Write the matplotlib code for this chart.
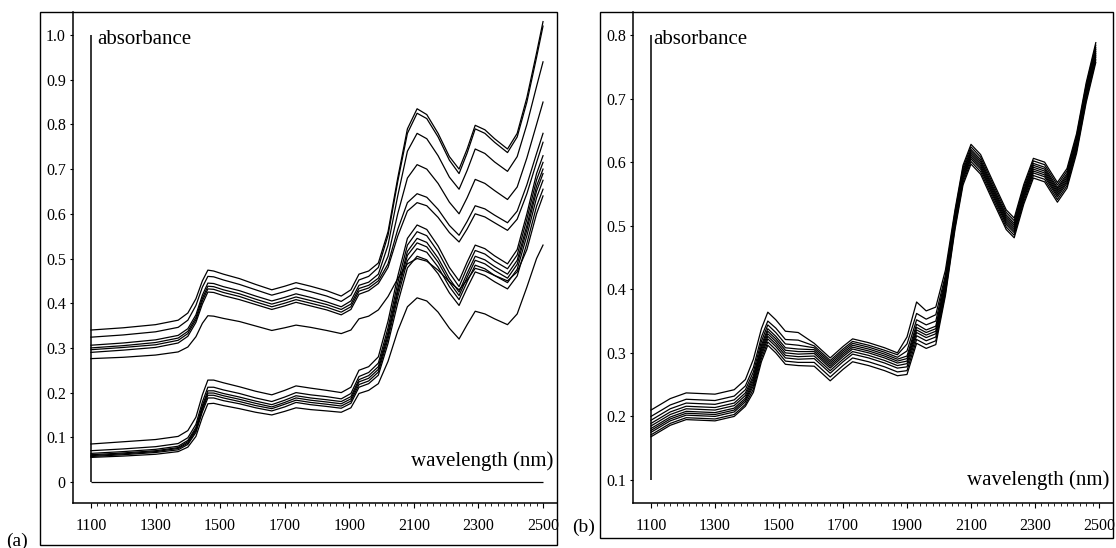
import numpy as np
import matplotlib.pyplot as plt
from matplotlib.patches import Rectangle

plt.rcParams['font.family'] = ['Liberation Serif', 'DejaVu Serif']

# --- данные (a): длины волн и спектры, две группы ---
wl_a = [1100, 1200, 1300, 1370, 1400, 1425, 1445, 1462, 1480, 1510, 1560, 1610, 1660, 1700,
        1735, 1780, 1830, 1875, 1905, 1930, 1960, 1990, 2020, 2050, 2080, 2110, 2140, 2175,
        2210, 2240, 2265, 2290, 2320, 2350, 2390, 2420, 2450, 2480, 2500]

upper_a = [
    [.340, .345, .352, .362, .378, .410, .450, .474, .472, .465, .455, .442, .430, .438, .446, .438,
     .428, .416, .430, .465, .472, .490, .560, .680, .790, .835, .822, .780, .728, .700, .745, .798,
     .788, .768, .745, .780, .860, .960, 1.030],
    [.324, .329, .336, .346, .362, .395, .436, .460, .459, .452, .442, .430, .418, .426, .434, .426,
     .416, .404, .418, .452, .460, .480, .552, .672, .780, .825, .813, .772, .720, .690, .736, .790,
     .780, .760, .737, .772, .850, .950, 1.020],
    [.306, .311, .318, .328, .343, .374, .418, .445, .444, .437, .428, .416, .405, .413, .421, .413,
     .403, .392, .405, .440, .447, .465, .530, .640, .740, .780, .768, .730, .682, .655, .697, .745,
     .735, .716, .695, .728, .800, .885, .940],
    [.300, .305, .312, .322, .337, .368, .411, .438, .437, .430, .421, .409, .398, .406, .414, .406,
     .397, .386, .398, .433, .440, .456, .505, .600, .680, .710, .700, .668, .626, .600, .636, .677,
     .668, .652, .632, .660, .725, .800, .850],
    [.296, .301, .307, .317, .332, .363, .405, .432, .431, .424, .415, .403, .392, .400, .408, .400,
     .391, .380, .392, .427, .434, .450, .488, .565, .625, .645, .637, .610, .574, .552, .583, .618,
     .611, .597, .580, .606, .665, .735, .780],
    [.290, .295, .301, .311, .326, .357, .398, .425, .424, .417, .408, .397, .386, .394, .402, .394,
     .385, .374, .386, .420, .428, .444, .480, .550, .606, .625, .618, .592, .558, .537, .566, .600,
     .593, .580, .563, .588, .645, .715, .760],
    [.276, .279, .284, .291, .302, .325, .355, .372, .371, .366, .359, .349, .339, .345, .351, .346,
     .339, .332, .340, .365, .371, .385, .415, .455, .488, .500, .494, .474, .448, .430, .452, .478,
     .472, .462, .450, .470, .520, .600, .640],
]

lower_a = [
    [.085, .090, .095, .102, .115, .145, .195, .228, .228, .222, .213, .203, .195, .205, .215, .210,
     .205, .200, .212, .250, .258, .280, .360, .460, .545, .575, .565, .528, .480, .450, .492, .530,
     .522, .506, .488, .520, .600, .690, .730],
    [.070, .074, .079, .086, .099, .129, .179, .212, .212, .206, .198, .188, .180, .190, .200, .195,
     .191, .186, .198, .236, .245, .266, .345, .445, .530, .560, .551, .515, .468, .437, .480, .518,
     .510, .494, .477, .508, .588, .676, .715],
    [.064, .068, .073, .080, .093, .122, .171, .204, .204, .198, .190, .181, .173, .183, .193, .188,
     .184, .180, .191, .229, .238, .258, .335, .432, .516, .545, .536, .501, .455, .425, .467, .505,
     .497, .482, .465, .496, .574, .662, .700],
    [.061, .065, .070, .077, .090, .118, .166, .199, .199, .193, .185, .176, .168, .178, .188, .183,
     .179, .175, .186, .224, .232, .252, .328, .424, .507, .535, .526, .492, .447, .417, .458, .496,
     .488, .473, .456, .487, .564, .651, .690],
    [.059, .063, .068, .075, .087, .115, .162, .194, .194, .188, .180, .171, .164, .174, .183, .178,
     .174, .170, .181, .218, .226, .246, .320, .414, .495, .522, .514, .481, .437, .408, .448, .485,
     .477, .462, .446, .476, .551, .636, .675],
    [.057, .061, .066, .072, .084, .111, .157, .188, .188, .182, .175, .166, .159, .168, .178, .173,
     .169, .165, .176, .212, .220, .239, .310, .400, .479, .505, .497, .466, .423, .395, .434, .470,
     .462, .448, .432, .461, .534, .617, .655],
    [.055, .058, .062, .068, .078, .102, .145, .175, .176, .171, .164, .156, .150, .158, .166, .162,
     .159, .156, .166, .198, .205, .220, .270, .338, .392, .412, .405, .380, .344, .320, .352, .382,
     .376, .365, .352, .376, .436, .500, .530],
]

# --- данные (b): спектры после коррекции ---
wl_b = [1100, 1160, 1210, 1300, 1360, 1395, 1420, 1445, 1465, 1490, 1520, 1560, 1610, 1660,
        1700, 1730, 1780, 1830, 1870, 1900, 1930, 1960, 1990, 2020, 2050, 2075, 2100, 2130,
        2170, 2210, 2235, 2265, 2295, 2330, 2370, 2400, 2430, 2460, 2490]

spectra_b = [
    [.210, .228, .237, .235, .242, .258, .290, .338, .364, .352, .334, .332, .315, .292, .310, .322,
     .316, .308, .300, .325, .380, .366, .372, .430, .525, .595, .628, .612, .568, .525, .512, .565,
     .606, .600, .568, .590, .645, .725, .788],
    [.200, .218, .227, .225, .232, .248, .277, .325, .350, .339, .321, .320, .311, .288, .306, .318,
     .312, .304, .297, .314, .362, .353, .360, .422, .521, .591, .624, .608, .564, .521, .508, .561,
     .602, .596, .564, .586, .641, .721, .784],
    [.194, .212, .221, .219, .226, .242, .270, .318, .344, .332, .314, .312, .308, .285, .303, .315,
     .309, .301, .293, .303, .352, .344, .350, .418, .517, .587, .620, .604, .560, .517, .504, .557,
     .598, .592, .560, .582, .637, .717, .780],
    [.189, .207, .216, .214, .221, .237, .264, .312, .338, .326, .308, .306, .305, .282, .300, .312,
     .306, .298, .290, .295, .345, .336, .342, .414, .514, .584, .617, .601, .557, .514, .501, .554,
     .595, .589, .557, .579, .634, .714, .777],
    [.185, .203, .212, .210, .217, .233, .260, .308, .334, .322, .304, .302, .302, .279, .297, .309,
     .303, .295, .287, .291, .340, .332, .338, .410, .511, .581, .614, .598, .554, .511, .498, .551,
     .592, .586, .554, .576, .631, .711, .774],
    [.181, .199, .208, .206, .213, .229, .256, .304, .330, .318, .300, .298, .299, .276, .294, .306,
     .300, .292, .284, .287, .336, .328, .334, .406, .508, .578, .611, .595, .551, .508, .495, .548,
     .589, .583, .551, .573, .628, .708, .771],
    [.178, .196, .205, .203, .210, .226, .252, .300, .326, .314, .296, .294, .295, .272, .290, .302,
     .296, .288, .280, .283, .332, .324, .330, .402, .505, .575, .608, .592, .548, .505, .492, .545,
     .586, .580, .548, .570, .625, .705, .768],
    [.175, .193, .202, .200, .207, .223, .248, .296, .322, .310, .292, .290, .291, .268, .286, .298,
     .292, .284, .276, .278, .327, .319, .325, .398, .502, .572, .605, .589, .545, .502, .489, .542,
     .583, .577, .545, .567, .622, .702, .765],
    [.171, .189, .198, .196, .203, .219, .243, .291, .317, .305, .287, .285, .285, .262, .280, .292,
     .286, .278, .270, .272, .321, .313, .319, .394, .498, .568, .601, .585, .541, .498, .485, .538,
     .579, .573, .541, .563, .618, .698, .761],
    [.168, .186, .195, .193, .200, .216, .238, .286, .312, .300, .282, .280, .279, .256, .274, .286,
     .280, .272, .264, .266, .315, .307, .313, .390, .494, .564, .597, .581, .537, .494, .481, .534,
     .575, .569, .537, .559, .614, .694, .757],
]

x_ticks = [1100, 1300, 1500, 1700, 1900, 2100, 2300, 2500]
y_ticks_a = [0, 0.1, 0.2, 0.3, 0.4, 0.5, 0.6, 0.7, 0.8, 0.9, 1.0]
y_labels_a = ['0', '0.1', '0.2', '0.3', '0.4', '0.5', '0.6', '0.7', '0.8', '0.9', '1.0']
y_ticks_b = [0.1, 0.2, 0.3, 0.4, 0.5, 0.6, 0.7, 0.8]
y_labels_b = ['0.1', '0.2', '0.3', '0.4', '0.5', '0.6', '0.7', '0.8']

W, H = 1116, 548
fig = plt.figure(figsize=(W / 100, H / 100), dpi=100)


# Прямоугольник в пикселях (от левого верхнего угла) -> координаты фигуры
def rect(x0, y0, x1, y1):
    return [x0 / W, 1 - y1 / H, (x1 - x0) / W, (y1 - y0) / H]


def panel(frame, axbox, xlim, ylim, yticks, ylabels, bottom_line):
    x0, y0, x1, y1 = frame
    fig.add_artist(Rectangle((x0 / W, 1 - y1 / H), (x1 - x0) / W, (y1 - y0) / H,
                             transform=fig.transFigure, fill=False, lw=1.0, color='black'))
    ax = fig.add_axes(rect(*axbox))
    ax.patch.set_alpha(0)
    for s in ['top', 'right']:
        ax.spines[s].set_visible(False)
    for s in ['left', 'bottom']:
        ax.spines[s].set_linewidth(1.1)
    ax.set_xlim(xlim)
    ax.set_ylim(ylim)
    ax.set_xticks(x_ticks)
    ax.set_xticklabels([str(t) for t in x_ticks])
    ax.set_xticks(np.arange(x_ticks[0], x_ticks[-1] + 1, 20), minor=True)
    ax.set_yticks(yticks)
    ax.set_yticklabels(ylabels)
    ax.tick_params(axis='x', which='major', direction='out', length=3.8, width=0.8,
                   pad=7, labelsize=11.5)
    ax.tick_params(axis='x', which='minor', direction='out', length=2.0, width=0.6)
    ax.tick_params(axis='y', which='major', direction='out', length=2.2, width=0.8,
                   pad=3, labelsize=11.5)
    # внутренние оси графика
    ax.vlines(x_ticks[0], yticks[0], yticks[-1], color='black', lw=1.1)
    if bottom_line:
        ax.hlines(yticks[0], x_ticks[0], x_ticks[-1], color='black', lw=0.9)
    return ax


ax_a = panel((40, 12, 557, 545), (73, 12, 557, 503), (1044.3, 2543.3), (-0.047, 1.0515),
             y_ticks_a, y_labels_a, True)
for s in upper_a + lower_a:
    ax_a.plot(wl_a, s, color='black', lw=0.9)

ax_b = panel((600, 12, 1113, 538), (633, 12, 1113, 503), (1043.75, 2543.75), (0.0638, 0.8362),
             y_ticks_b, y_labels_b, False)
for s in spectra_b:
    ax_b.plot(wl_b, s, color='black', lw=0.9)

# подписи
fig.text(97 / W, 1 - 40 / H, 'absorbance', fontsize=15, va='center', ha='left')
fig.text(653 / W, 1 - 39 / H, 'absorbance', fontsize=15, va='center', ha='left')
fig.text(553 / W, 1 - 461 / H, 'wavelength (nm)', fontsize=15, va='center', ha='right')
fig.text(1109 / W, 1 - 480 / H, 'wavelength (nm)', fontsize=15, va='center', ha='right')
fig.text(6 / W, 1 - 541 / H, '(a)', fontsize=14, va='center', ha='left')
fig.text(572 / W, 1 - 527 / H, '(b)', fontsize=14, va='center', ha='left')

fig.savefig('out.png', dpi=100)
